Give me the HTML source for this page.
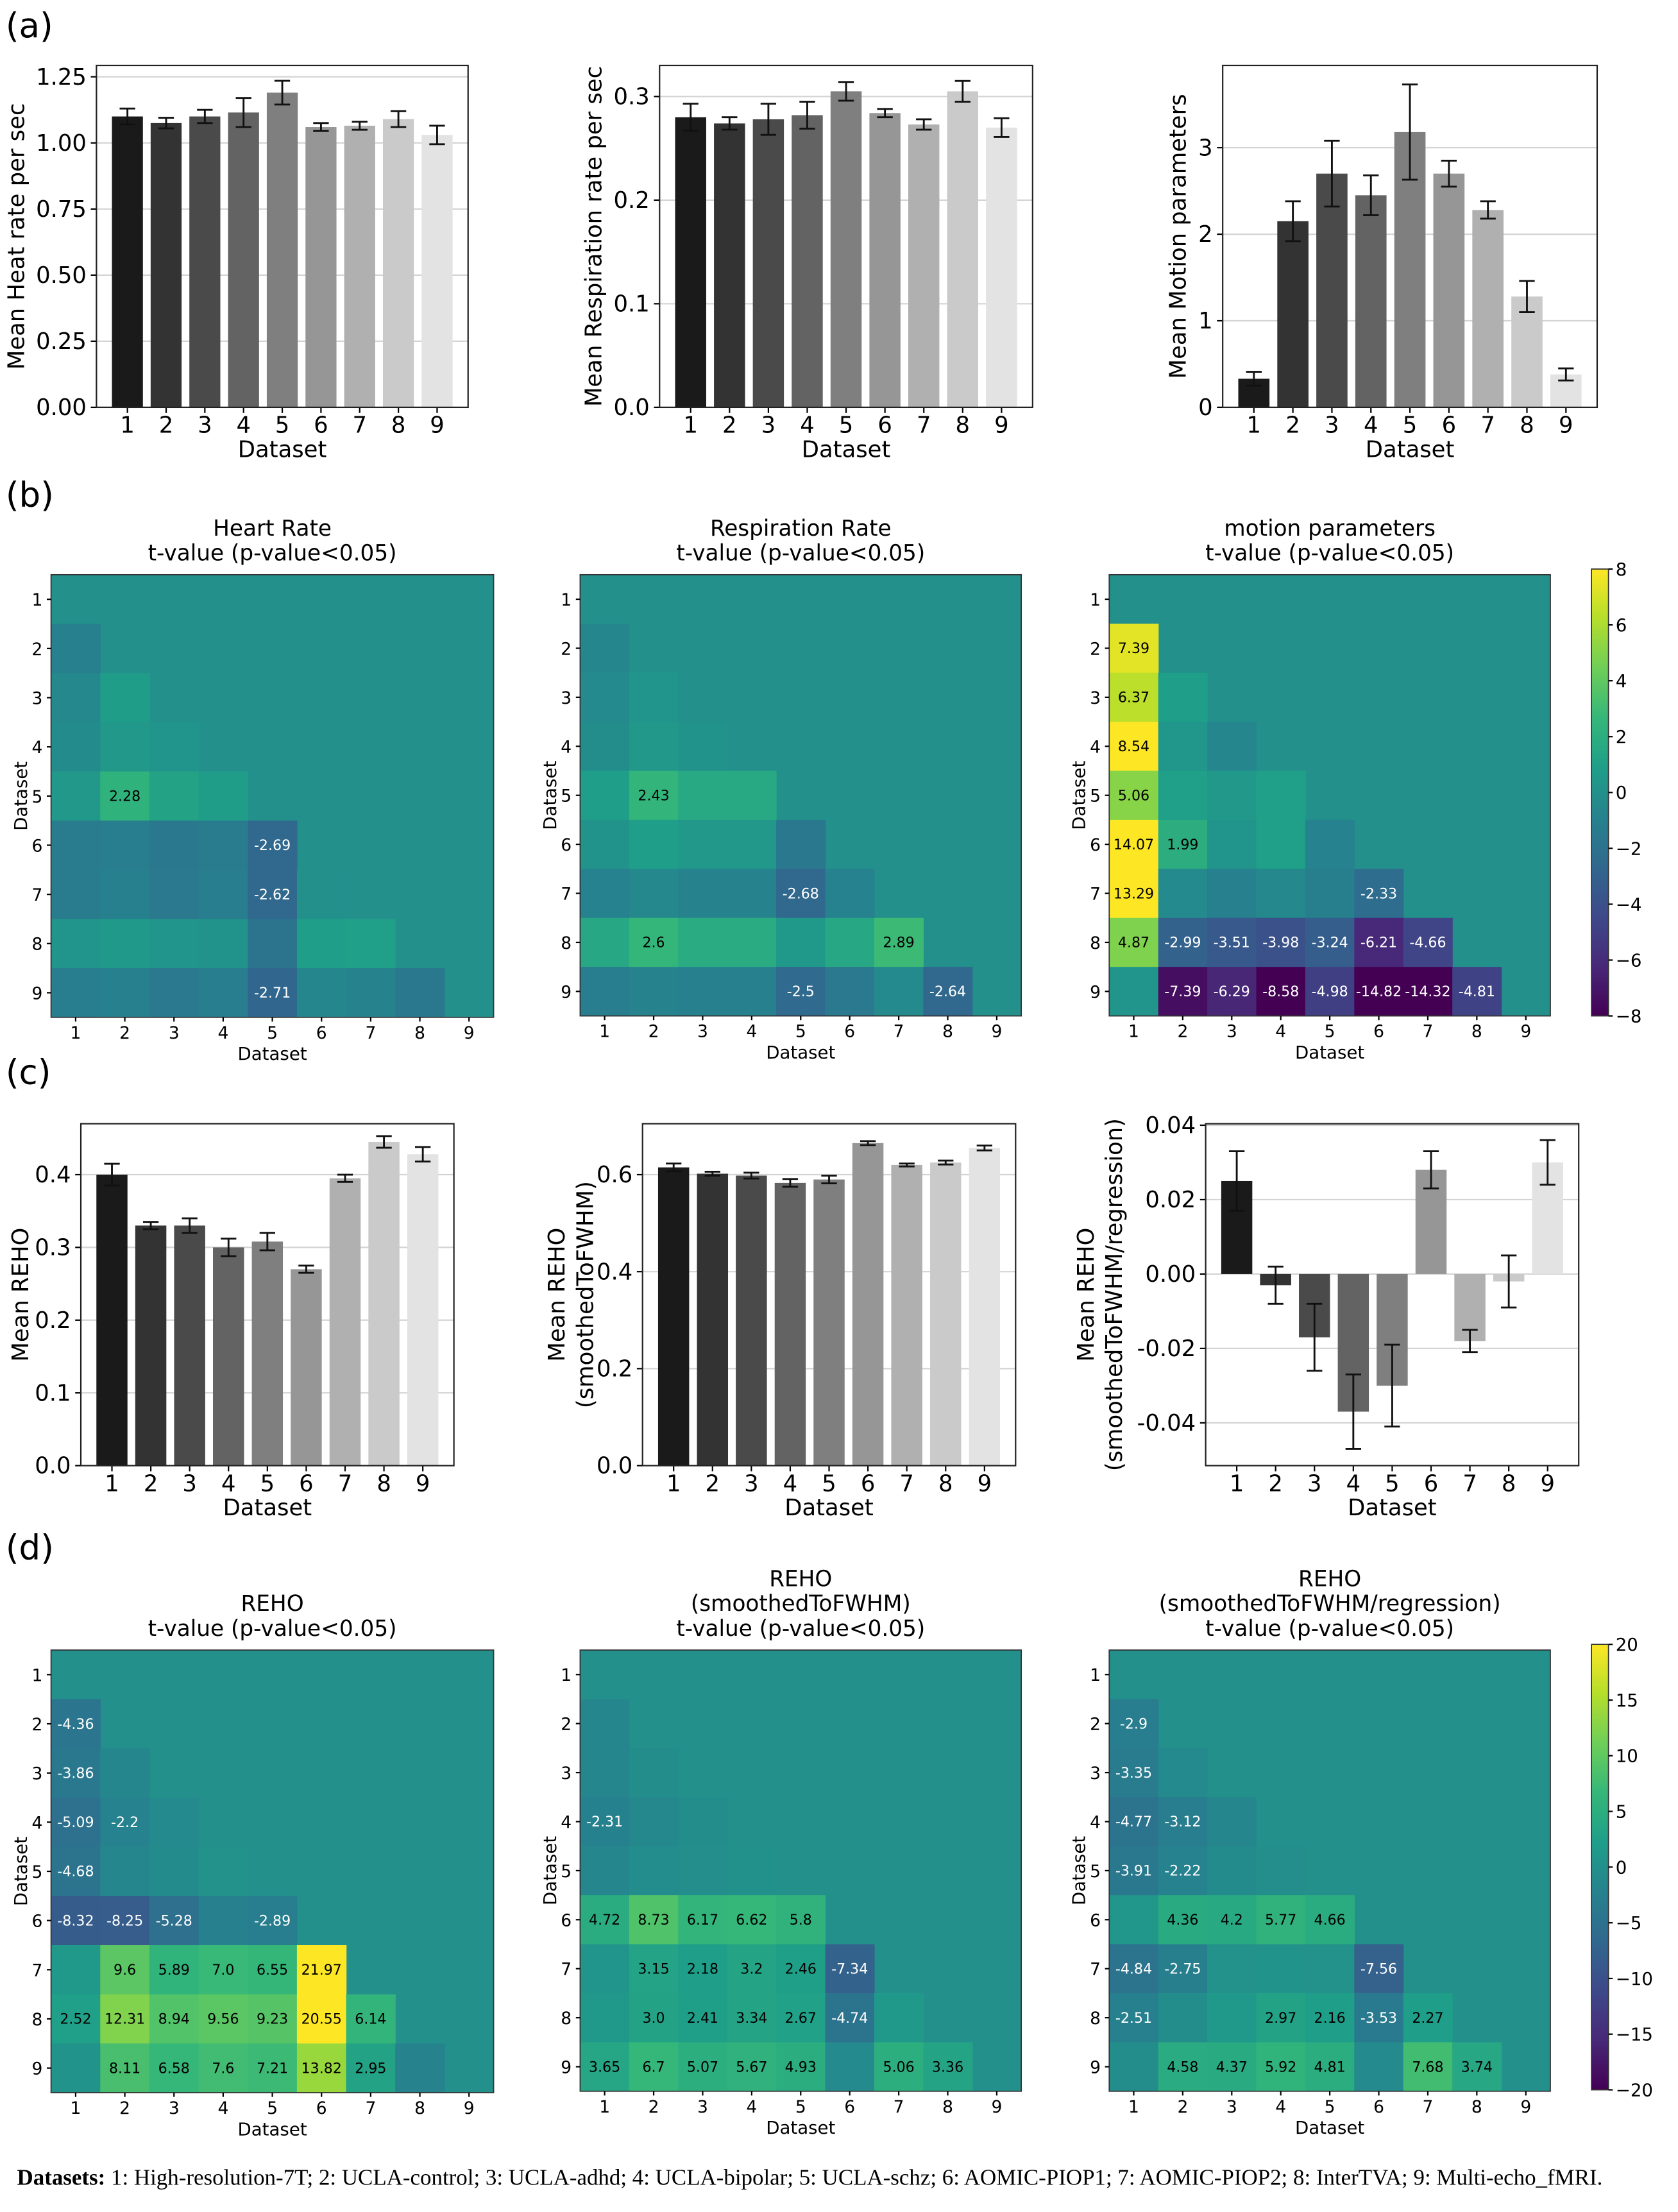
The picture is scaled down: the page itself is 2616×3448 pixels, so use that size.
<!DOCTYPE html>
<html><head><meta charset="utf-8"><style>
html,body{margin:0;padding:0;background:#fff;}
svg{display:block;font-family:"DejaVu Sans","Liberation Sans",sans-serif;}
</style></head><body>
<svg id="fig" xmlns="http://www.w3.org/2000/svg" width="2616" height="3448" viewBox="0 0 1183 1559">
<rect x="0" y="0" width="1183" height="1559" fill="#fff"/>
<defs>
<linearGradient id="vir" x1="0" y1="1" x2="0" y2="0">
<stop offset="0" stop-color="#440154"/><stop offset="0.111" stop-color="#482878"/><stop offset="0.222" stop-color="#3e4989"/><stop offset="0.333" stop-color="#31688e"/><stop offset="0.444" stop-color="#26828e"/><stop offset="0.556" stop-color="#1f9e89"/><stop offset="0.667" stop-color="#35b779"/><stop offset="0.778" stop-color="#6ece58"/><stop offset="0.889" stop-color="#b5de2b"/><stop offset="1" stop-color="#fde725"/>
</linearGradient>
</defs>
<text x="4" y="26" font-size="24">(a)</text>
<text x="4" y="357" font-size="24">(b)</text>
<text x="4" y="764" font-size="24">(c)</text>
<text x="4" y="1099" font-size="24">(d)</text>
<text x="12" y="1540" font-size="15.8" font-family="Liberation Serif, serif"><tspan font-weight="bold">Datasets:</tspan> 1: High-resolution-7T; 2: UCLA-control; 3: UCLA-adhd; 4: UCLA-bipolar; 5: UCLA-schz; 6: AOMIC-PIOP1; 7: AOMIC-PIOP2; 8: InterTVA; 9: Multi-echo_fMRI.</text>
</svg>
<script>
// ---- data ----
const categories = ['1','2','3','4','5','6','7','8','9'];
const heartVals = [1.10,1.075,1.10,1.115,1.19,1.06,1.065,1.09,1.03];
const heartErrs = [0.03,0.02,0.025,0.055,0.045,0.015,0.015,0.03,0.035];
const heartTicks = [0,0.25,0.5,0.75,1.0,1.25];
const heartTickLabels = ['0.00','0.25','0.50','0.75','1.00','1.25'];
const respVals = [0.28,0.274,0.278,0.282,0.305,0.284,0.273,0.305,0.270];
const respErrs = [0.013,0.006,0.015,0.013,0.009,0.004,0.005,0.01,0.009];
const respTicks = [0,0.1,0.2,0.3];
const respTickLabels = ['0.0','0.1','0.2','0.3'];
const motionVals = [0.33,2.15,2.7,2.45,3.18,2.7,2.28,1.28,0.38];
const motionErrs = [0.08,0.23,0.38,0.23,0.55,0.15,0.1,0.18,0.07];
const motionTicks = [0,1,2,3];
const motionTickLabels = ['0','1','2','3'];
const rehoVals = [0.40,0.33,0.33,0.30,0.308,0.27,0.395,0.445,0.428];
const rehoErrs = [0.015,0.005,0.01,0.012,0.012,0.005,0.005,0.008,0.01];
const rehoTicks = [0,0.1,0.2,0.3,0.4];
const rehoTickLabels = ['0.0','0.1','0.2','0.3','0.4'];
const rehoSmVals = [0.615,0.602,0.598,0.583,0.59,0.665,0.62,0.625,0.655];
const rehoSmErrs = [0.008,0.004,0.006,0.008,0.008,0.004,0.003,0.004,0.005];
const rehoSmTicks = [0,0.2,0.4,0.6];
const rehoSmTickLabels = ['0.0','0.2','0.4','0.6'];
const rehoRegVals = [0.025,-0.003,-0.017,-0.037,-0.03,0.028,-0.018,-0.002,0.03];
const rehoRegErrs = [0.008,0.005,0.009,0.01,0.011,0.005,0.003,0.007,0.006];
const rehoRegTicks = [-0.04,-0.02,0,0.02,0.04];
const rehoRegTickLabels = ['-0.04','-0.02','0.00','0.02','0.04'];
const barGreys = ['#1a1a1a','#333333','#4a4a4a','#636363','#7f7f7f','#969696','#b0b0b0','#cacaca','#e3e3e3'];

// heatmap lower-triangle values (row i has i entries, rows 2..9)
const hmHeart = [[-1.0],[-0.5,0.8],[-0.3,0.5,0.3],[0.5,2.28,1.2,0.8],[-1.3,-1.2,-1.6,-1.3,-2.69],[-1.3,-1.0,-1.5,-1.2,-2.62,0],[0.3,0.6,0.3,0.2,-1.9,0.9,1.0],[-1.2,-1.0,-1.5,-1.2,-2.71,-0.6,-0.8,-1.6]];
const sigHeart = [[0],[0,0],[0,0,0],[0,1,0,0],[0,0,0,0,1],[0,0,0,0,1,0],[0,0,0,0,0,0,0],[0,0,0,0,1,0,0,0]];
const hmResp = [[-0.6],[-0.4,0.3],[-0.2,0.5,0.2],[0.9,2.43,1.6,1.6],[0.2,0.9,0.5,0.5,-1.6],[-0.9,-0.5,-0.8,-0.8,-2.68,-0.9],[1.5,2.6,1.8,1.8,0.6,1.5,2.89],[-1.2,-0.8,-1.0,-1.0,-2.5,-1.5,-0.4,-2.64]];
const sigResp = [[0],[0,0],[0,0,0],[0,1,0,0],[0,0,0,0,0],[0,0,0,0,1,0],[0,1,0,0,0,0,1],[0,0,0,0,1,0,0,1]];
const hmMotion = [[7.39],[6.37,0.9],[8.54,0.4,-0.6],[5.06,1.0,0.5,1.0],[14.07,1.99,0.3,1.0,-0.9],[13.29,-0.4,-1.0,-0.5,-1.1,-2.33],[4.87,-2.99,-3.51,-3.98,-3.24,-6.21,-4.66],[0.3,-7.39,-6.29,-8.58,-4.98,-14.82,-14.32,-4.81]];
const sigMotion = [[1],[1,0],[1,0,0],[1,0,0,0],[1,1,0,0,0],[1,0,0,0,0,1],[1,1,1,1,1,1,1],[0,1,1,1,1,1,1,1]];
const hmReho = [[-4.36],[-3.86,-1.5],[-5.09,-2.2,-1.0],[-4.68,-1.5,-0.8,0.3],[-8.32,-8.25,-5.28,-2.5,-2.89],[1.5,9.6,5.89,7.0,6.55,21.97],[2.52,12.31,8.94,9.56,9.23,20.55,6.14],[0.5,8.11,6.58,7.6,7.21,13.82,2.95,-2.0]];
const sigReho = [[1],[1,0],[1,1,0],[1,0,0,0],[1,1,1,0,1],[0,1,1,1,1,1],[1,1,1,1,1,1,1],[0,1,1,1,1,1,1,0]];
const hmRehoSm = [[-1.5],[-1.5,-0.5],[-2.31,-1.2,-0.5],[-1.5,-0.6,-0.3,0.2],[4.72,8.73,6.17,6.62,5.8],[0.8,3.15,2.18,3.2,2.46,-7.34],[1.5,3.0,2.41,3.34,2.67,-4.74,1.5],[3.65,6.7,5.07,5.67,4.93,-1.0,5.06,3.36]];
const sigRehoSm = [[0],[0,0],[1,0,0],[0,0,0,0],[1,1,1,1,1],[0,1,1,1,1,1],[0,1,1,1,1,1,0],[1,1,1,1,1,0,1,1]];
const hmRehoReg = [[-2.9],[-3.35,-1.0],[-4.77,-3.12,-1.5],[-3.91,-2.22,-0.8,-0.3],[1.0,4.36,4.2,5.77,4.66],[-4.84,-2.75,0.3,0.5,0.3,-7.56],[-2.51,-0.5,1.5,2.97,2.16,-3.53,2.27],[-0.5,4.58,4.37,5.92,4.81,-1.0,7.68,3.74]];
const sigRehoReg = [[1],[1,0],[1,1,0],[1,1,0,0],[0,1,1,1,1],[1,1,0,0,0,1],[1,0,0,1,1,1,1],[0,1,1,1,1,0,1,1]];
const cbTicks1 = [-8,-6,-4,-2,0,2,4,6,8];
const cbTicks2 = [-20,-15,-10,-5,0,5,10,15,20];

// ---- helpers ----
const NS = 'http://www.w3.org/2000/svg';
const svg = document.getElementById('fig');
function mk(tag, attrs, parent, name, text) {
  const e = document.createElementNS(NS, tag);
  for (const k in attrs) e.setAttribute(k, attrs[k]);
  
  
  if (text !== undefined) e.textContent = text;
  parent.appendChild(e);
  return e;
}
function minus(s){ return String(s).replace('-', '\u2212'); }
const VIR = ['#440154','#482878','#3e4989','#31688e','#26828e','#1f9e89','#35b779','#6ece58','#b5de2b','#fde725'];
function hex2(c){return [parseInt(c.slice(1,3),16),parseInt(c.slice(3,5),16),parseInt(c.slice(5,7),16)];}
function viridis(t){
  t=Math.max(0,Math.min(1,t));
  const p=t*(VIR.length-1), i=Math.min(Math.floor(p),VIR.length-2), f=p-i;
  const a=hex2(VIR[i]), b=hex2(VIR[i+1]);
  return 'rgb('+a.map((v,k)=>Math.round(v+(b[k]-v)*f)).join(',')+')';
}

function barChart(id, box, ylim, vals, errs, ticks, tickLabels, ylabel, ylabelX) {
  const g = mk('g', {}, svg, id);
  const ys = v => box.y1 - (v - ylim[0]) / (ylim[1] - ylim[0]) * (box.y1 - box.y0);
  const xs = i => box.x0 + (i + 0.8) / 9.6 * (box.x1 - box.x0);
  const bw = 0.8 / 9.6 * (box.x1 - box.x0);
  ticks.forEach((t, k) => {
    mk('line', {x1:box.x0, x2:box.x1, y1:ys(t), y2:ys(t), stroke:'#d4d4d4', 'stroke-width':1}, g, 'gridline');
    mk('line', {x1:box.x0-4, x2:box.x0, y1:ys(t), y2:ys(t), stroke:'#000', 'stroke-width':1}, g, 'y-tick');
    mk('text', {x:box.x0-7, y:ys(t)+5.5, 'font-size':16, 'text-anchor':'end'}, g, 'y-tick-label', tickLabels[k]);
  });
  vals.forEach((v, i) => {
    const y0 = ys(0), y1 = ys(v);
    mk('rect', {x:xs(i)-bw/2, y:Math.min(y0,y1), width:bw, height:Math.abs(y1-y0), fill:barGreys[i]}, g, 'bar-'+categories[i]);
    const e1 = ys(v+errs[i]), e2 = ys(v-errs[i]);
    mk('line', {x1:xs(i), x2:xs(i), y1:e1, y2:e2, stroke:'#111', 'stroke-width':1.3}, g, 'error-bar');
    mk('line', {x1:xs(i)-5.5, x2:xs(i)+5.5, y1:e1, y2:e1, stroke:'#111', 'stroke-width':1.3}, g, 'error-cap');
    mk('line', {x1:xs(i)-5.5, x2:xs(i)+5.5, y1:e2, y2:e2, stroke:'#111', 'stroke-width':1.3}, g, 'error-cap');
    mk('line', {x1:xs(i), x2:xs(i), y1:box.y1, y2:box.y1+4, stroke:'#000'}, g, 'x-tick');
    mk('text', {x:xs(i), y:box.y1+18, 'font-size':16, 'text-anchor':'middle'}, g, 'x-tick-label', categories[i]);
  });
  mk('rect', {x:box.x0, y:box.y0, width:box.x1-box.x0, height:box.y1-box.y0, fill:'none', stroke:'#222', 'stroke-width':1}, g, 'axes-frame');
  mk('text', {x:(box.x0+box.x1)/2, y:box.y1+35, 'font-size':16, 'text-anchor':'middle'}, g, 'x-axis-title', 'Dataset');
  const my = (box.y0 + box.y1) / 2;
  ylabel.forEach((l, k) => {
    mk('text', {x:0, y:0, 'font-size':16, 'text-anchor':'middle', transform:'translate('+(ylabelX+k*20)+','+my+') rotate(-90)'}, g, 'y-axis-title', l);
  });
}

function heatmap(id, box, vals, sig, range, titles) {
  const g = mk('g', {}, svg, id);
  const cs = (box.x1 - box.x0) / 9;
  const col = v => viridis((v - range[0]) / (range[1] - range[0]));
  mk('rect', {x:box.x0, y:box.y0, width:cs*9, height:cs*9, fill:col(0)}, g, 'heatmap-background');
  vals.forEach((row, r) => {
    row.forEach((v, c) => {
      const x = box.x0 + c*cs, y = box.y0 + (r+1)*cs;
      mk('rect', {x:x, y:y, width:cs+0.3, height:cs+0.3, fill:col(v)}, g, 'heatmap-cell');
    });
  });
  vals.forEach((row, r) => {
    row.forEach((v, c) => {
      if (!sig[r][c]) return;
      const x = box.x0 + c*cs, y = box.y0 + (r+1)*cs;
      const s = Number.isInteger(v) ? v.toFixed(1) : String(v);
      mk('text', {x:x+cs/2, y:y+cs/2+3.5, 'font-size':10, 'text-anchor':'middle', fill: v<0 ? '#fff' : '#000'}, g, 'cell-value-label', s);
    });
  });
  mk('rect', {x:box.x0, y:box.y0, width:cs*9, height:cs*9, fill:'none', stroke:'#333', 'stroke-width':0.8}, g, 'heatmap-frame');
  categories.forEach((c, i) => {
    const p = box.x0 + (i+0.5)*cs;
    mk('line', {x1:p, x2:p, y1:box.y0+cs*9, y2:box.y0+cs*9+3, stroke:'#000'}, g, 'x-tick');
    mk('text', {x:p, y:box.y0+cs*9+15, 'font-size':12, 'text-anchor':'middle'}, g, 'x-tick-label', c);
    const q = box.y0 + (i+0.5)*cs;
    mk('line', {x1:box.x0-3, x2:box.x0, y1:q, y2:q, stroke:'#000'}, g, 'y-tick');
    mk('text', {x:box.x0-6, y:q+4.5, 'font-size':12, 'text-anchor':'end'}, g, 'y-tick-label', c);
  });
  mk('text', {x:(box.x0+box.x1)/2, y:box.y0+cs*9+30, 'font-size':12.5, 'text-anchor':'middle'}, g, 'x-axis-title', 'Dataset');
  mk('text', {x:0, y:0, 'font-size':12.5, 'text-anchor':'middle', transform:'translate('+(box.x0-17)+','+(box.y0+cs*4.5)+') rotate(-90)'}, g, 'y-axis-title', 'Dataset');
  const n = titles.length;
  titles.forEach((t, k) => {
    mk('text', {x:(box.x0+box.x1)/2, y:box.y0-10-(n-1-k)*17.5, 'font-size':15.5, 'text-anchor':'middle'}, g, 'heatmap-title', t);
  });
}

function colorbar(id, box, ticks) {
  const g = mk('g', {}, svg, id);
  mk('rect', {x:box.x0, y:box.y0, width:box.x1-box.x0, height:box.y1-box.y0, fill:'url(#vir)', stroke:'#333', 'stroke-width':0.8}, g, 'colorbar-gradient');
  const lo = ticks[0], hi = ticks[ticks.length-1];
  ticks.forEach(t => {
    const y = box.y1 - (t-lo)/(hi-lo)*(box.y1-box.y0);
    mk('line', {x1:box.x1, x2:box.x1+3, y1:y, y2:y, stroke:'#000'}, g, 'colorbar-tick');
    mk('text', {x:box.x1+5, y:y+4.5, 'font-size':12.5}, g, 'colorbar-tick-label', minus(t));
  });
}

// ---- panel (a) ----
barChart('heart-rate-bar-chart', {x0:68,x1:330,y0:46,y1:287}, [0,1.293], heartVals, heartErrs, heartTicks, heartTickLabels, ['Mean Heat rate per sec'], 17);
barChart('respiration-bar-chart', {x0:465,x1:728,y0:46,y1:287}, [0,0.33], respVals, respErrs, respTicks, respTickLabels, ['Mean Respiration rate per sec'], 424);
barChart('motion-bar-chart', {x0:862,x1:1126,y0:46,y1:287}, [0,3.95], motionVals, motionErrs, motionTicks, motionTickLabels, ['Mean Motion parameters'], 836);

// ---- panel (b) ----
heatmap('heart-rate-heatmap', {x0:36,x1:348,y0:405}, hmHeart, sigHeart, [-8,8], ['Heart Rate','t-value (p-value<0.05)']);
heatmap('respiration-heatmap', {x0:409,x1:720,y0:405}, hmResp, sigResp, [-8,8], ['Respiration Rate','t-value (p-value<0.05)']);
heatmap('motion-heatmap', {x0:782,x1:1093,y0:405}, hmMotion, sigMotion, [-8,8], ['motion parameters','t-value (p-value<0.05)']);
colorbar('colorbar-b', {x0:1122,x1:1134,y0:401,y1:716}, cbTicks1);

// ---- panel (c) ----
barChart('reho-bar-chart', {x0:57,x1:320,y0:792,y1:1033}, [0,0.47], rehoVals, rehoErrs, rehoTicks, rehoTickLabels, ['Mean REHO'], 20);
barChart('reho-smoothed-bar-chart', {x0:453,x1:716,y0:792,y1:1033}, [0,0.705], rehoSmVals, rehoSmErrs, rehoSmTicks, rehoSmTickLabels, ['Mean REHO','(smoothedToFWHM)'], 398);
barChart('reho-regression-bar-chart', {x0:850,x1:1113,y0:792,y1:1033}, [-0.0515,0.0404], rehoRegVals, rehoRegErrs, rehoRegTicks, rehoRegTickLabels, ['Mean REHO','(smoothedToFWHM/regression)'], 771);

// ---- panel (d) ----
heatmap('reho-heatmap', {x0:36,x1:348,y0:1163}, hmReho, sigReho, [-20,20], ['REHO','t-value (p-value<0.05)']);
heatmap('reho-smoothed-heatmap', {x0:409,x1:720,y0:1163}, hmRehoSm, sigRehoSm, [-20,20], ['REHO','(smoothedToFWHM)','t-value (p-value<0.05)']);
heatmap('reho-regression-heatmap', {x0:782,x1:1093,y0:1163}, hmRehoReg, sigRehoReg, [-20,20], ['REHO','(smoothedToFWHM/regression)','t-value (p-value<0.05)']);
colorbar('colorbar-d', {x0:1122,x1:1134,y0:1159,y1:1473}, cbTicks2);
</script>
</body></html>
